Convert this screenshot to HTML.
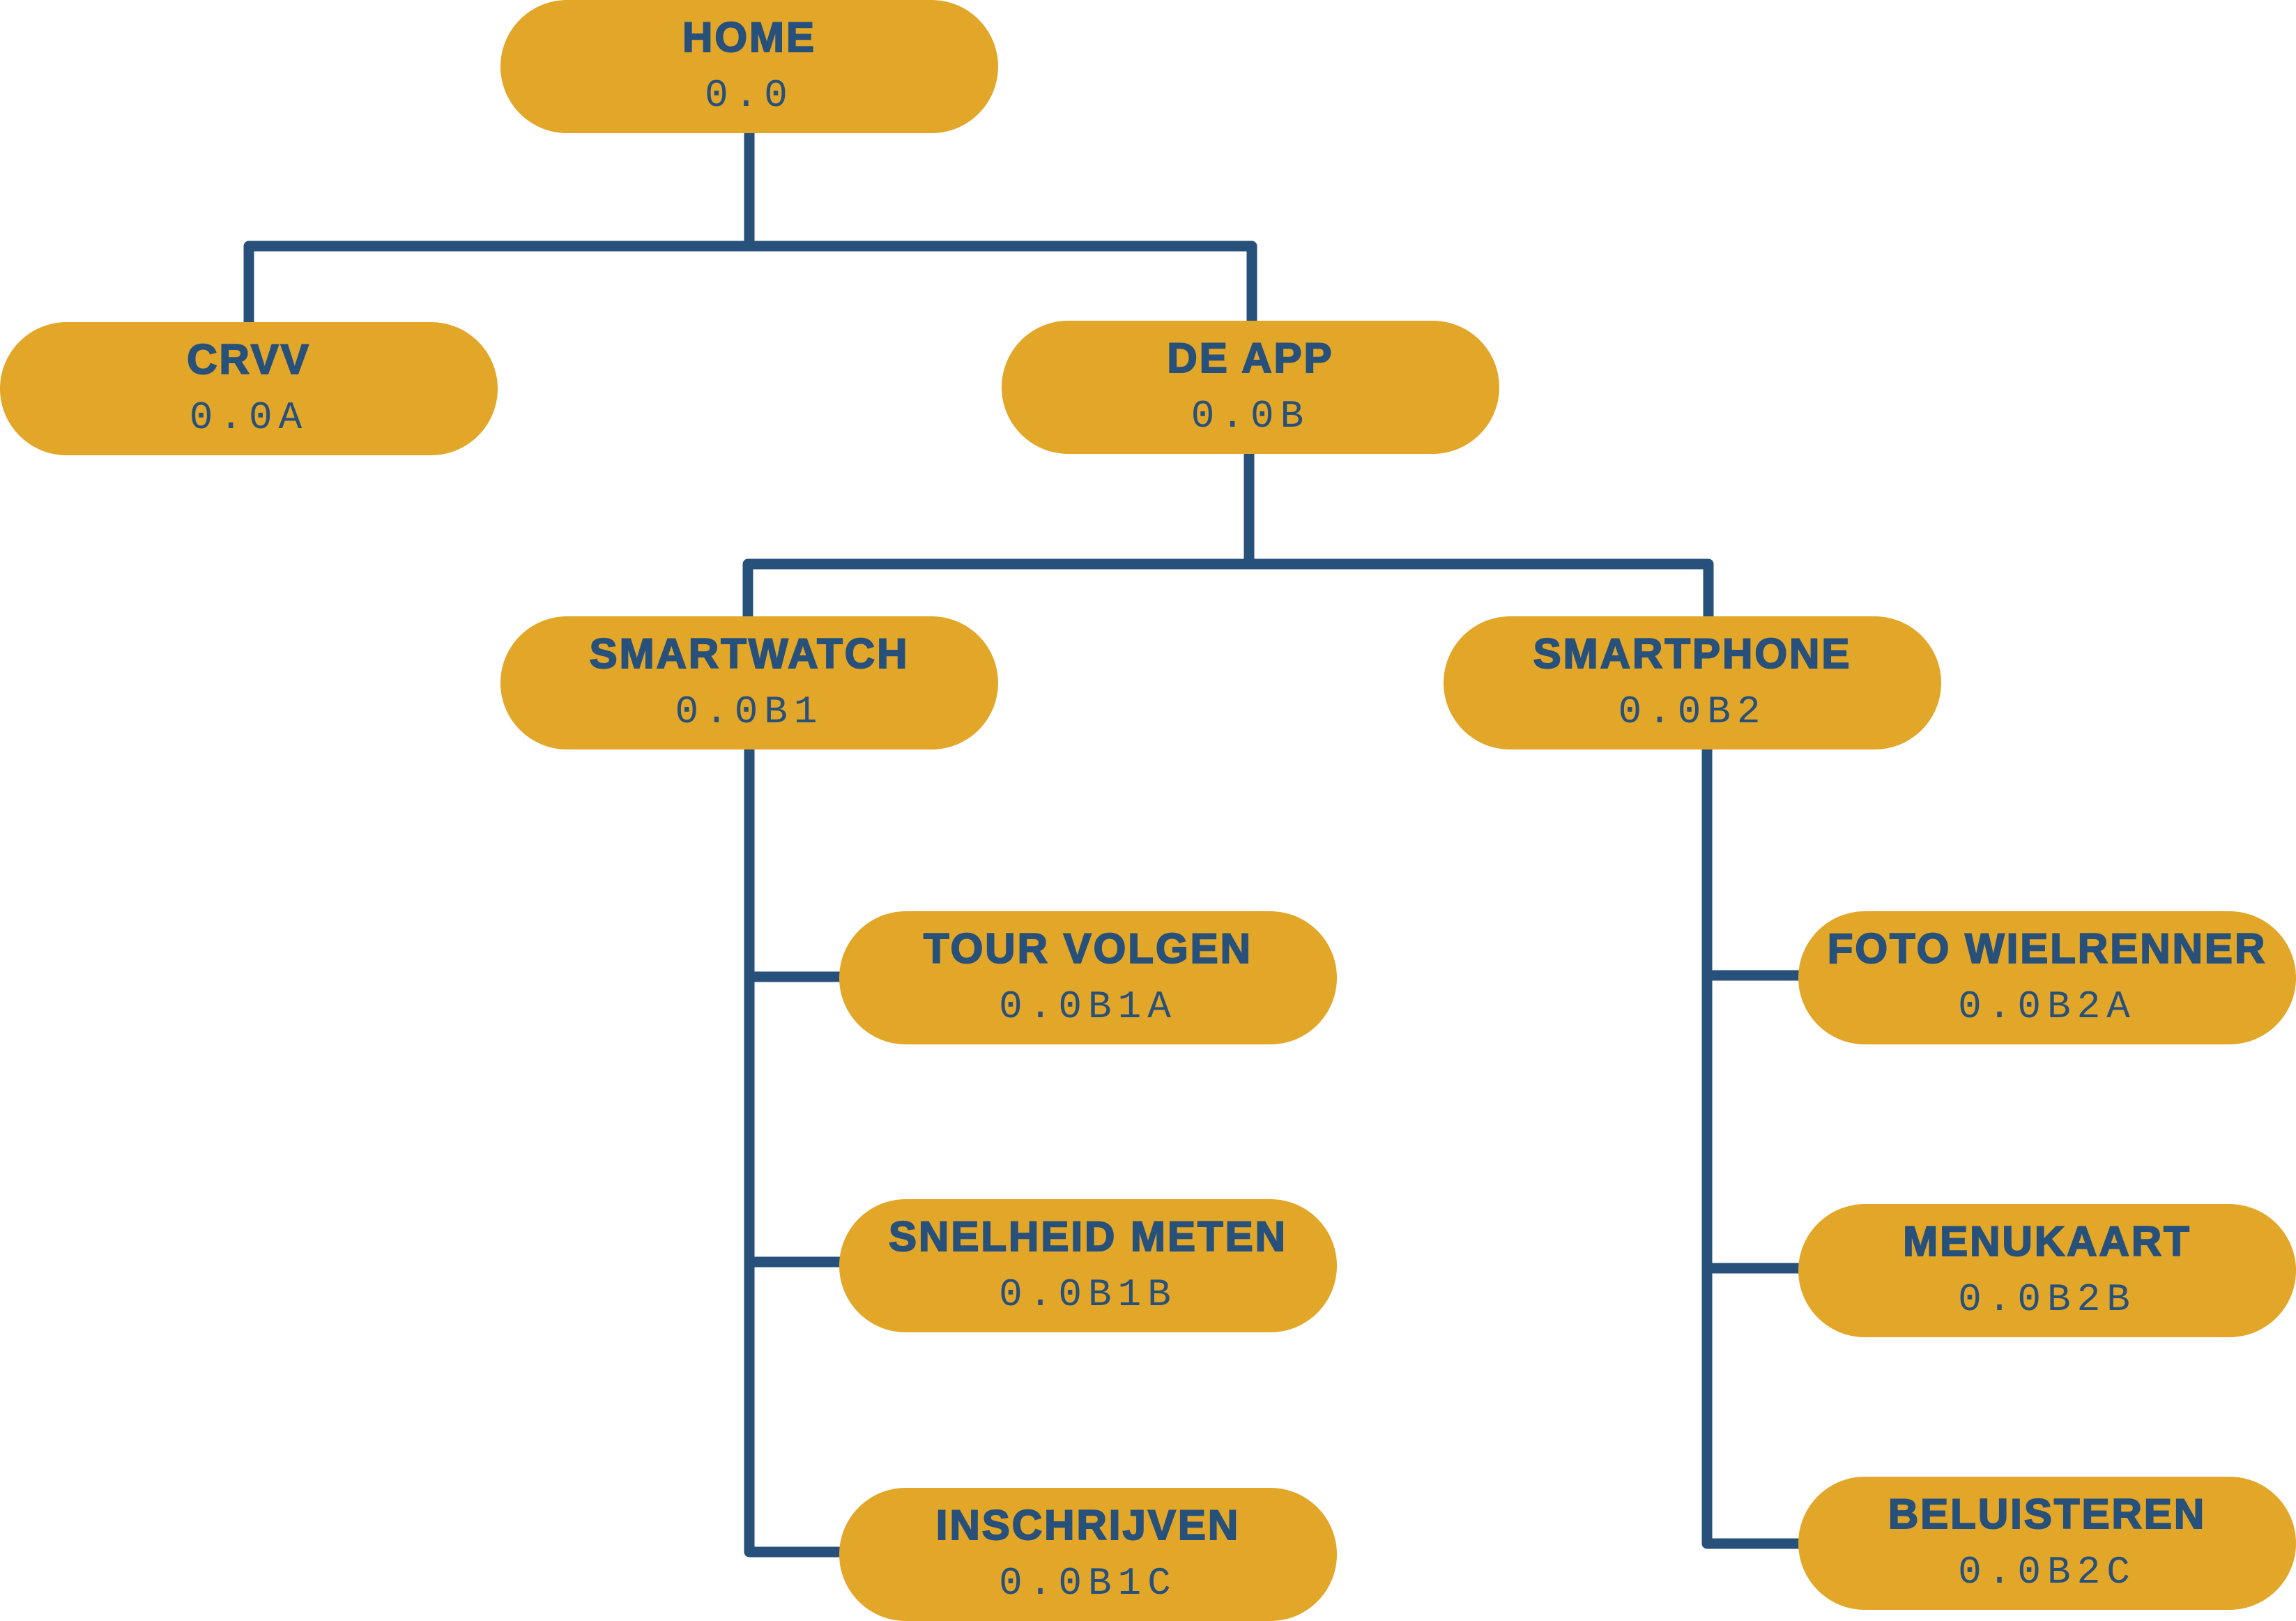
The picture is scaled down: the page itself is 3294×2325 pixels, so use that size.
<!DOCTYPE html>
<html><head><meta charset="utf-8"><style>
html,body{margin:0;padding:0;background:#fff;}
body{width:3294px;height:2325px;position:relative;overflow:hidden;}
.n{position:absolute;width:714px;height:191px;border-radius:96px;background:#e2a628;color:#27507a;text-align:center;}
.t{position:absolute;left:0;right:0;top:19px;font:900 60px "Liberation Sans",sans-serif;letter-spacing:3px;-webkit-text-stroke:2px #27507a;}
.c{position:absolute;left:0;right:0;top:105px;font:400 56px "Liberation Mono",monospace;letter-spacing:9px;}
svg{position:absolute;left:0;top:0;}
</style></head><body>
<svg width="3294" height="2325"><g stroke="#27507a" stroke-width="15" fill="none" stroke-linecap="round" stroke-linejoin="round">
<path d="M1075 191V353M357 470V353H1796V470"/>
<path d="M1792 651V809M1073 890V809H2451V890"/>
<path d="M1075 1073V2226H1204M1075 1401H1204M1075 1810H1204"/>
<path d="M2449 1073V2214H2580M2449 1399H2580M2449 1819H2580"/>
</g></svg>
<div class="n" style="left:718px;top:0"><div class="t">HOME</div><div class="c">0.0</div></div>
<div class="n" style="left:0;top:462px"><div class="t">CRVV</div><div class="c">0.0A</div></div>
<div class="n" style="left:1437px;top:460px"><div class="t">DE APP</div><div class="c">0.0B</div></div>
<div class="n" style="left:718px;top:884px"><div class="t">SMARTWATCH</div><div class="c">0.0B1</div></div>
<div class="n" style="left:2071px;top:884px"><div class="t">SMARTPHONE</div><div class="c">0.0B2</div></div>
<div class="n" style="left:1204px;top:1307px"><div class="t">TOUR VOLGEN</div><div class="c">0.0B1A</div></div>
<div class="n" style="left:1204px;top:1720px"><div class="t">SNELHEID METEN</div><div class="c">0.0B1B</div></div>
<div class="n" style="left:1204px;top:2134px"><div class="t">INSCHRIJVEN</div><div class="c">0.0B1C</div></div>
<div class="n" style="left:2580px;top:1307px"><div class="t">FOTO WIELRENNER</div><div class="c">0.0B2A</div></div>
<div class="n" style="left:2580px;top:1727px"><div class="t">MENUKAART</div><div class="c">0.0B2B</div></div>
<div class="n" style="left:2580px;top:2118px"><div class="t">BELUISTEREN</div><div class="c">0.0B2C</div></div>
</body></html>
